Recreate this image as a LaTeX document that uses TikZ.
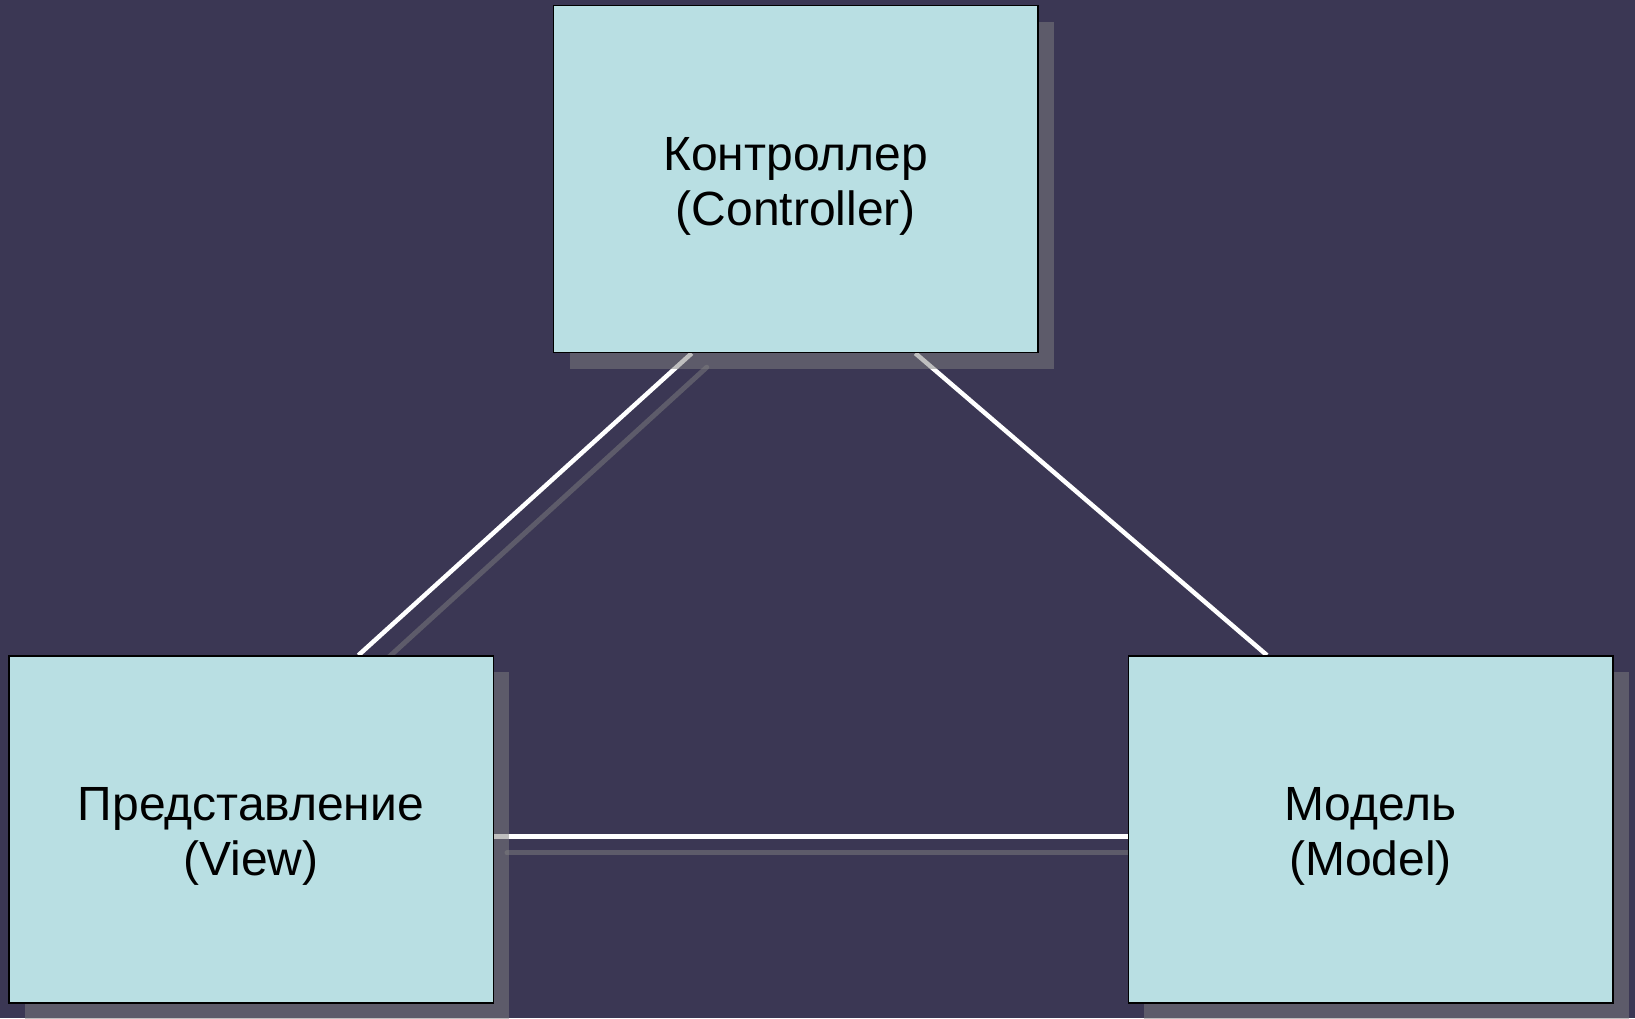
\documentclass[tikz,border=0pt]{standalone}
\usepackage{fontspec}
\setmainfont{Liberation Sans}
\usetikzlibrary{calc,shadows}
\definecolor{bgc}{HTML}{3B3754}
\definecolor{boxc}{HTML}{B9DFE3}
\pgfdeclarelayer{bgl}
\pgfdeclarelayer{conn}
\pgfsetlayers{bgl,conn,main}
\begin{document}
\begin{tikzpicture}[x=1pt,y=-1pt,
  box/.style={draw=black, line width=1.5pt, fill=boxc, minimum width=484.5pt,
    minimum height=347pt, inner sep=0pt,
    drop shadow={shadow xshift=16pt, shadow yshift=-16pt, fill=gray, opacity=0.5}},
  boxtext/.style={align=center, inner sep=0pt, yshift=-7pt,
    font=\fontsize{48}{55}\selectfont},
  link/.style={draw=white, line width=4.5pt},
  linkshadow/.style={draw=gray, draw opacity=0.5, line width=5pt, line cap=round}]
\begin{pgfonlayer}{bgl}
\fill[bgc] (0,0) rectangle (1635,1018);
\end{pgfonlayer}
\useasboundingbox (0,0) rectangle (1635,1018);
\node[box, label={[boxtext, name=ctrltext]center:Контроллер\\(Controller)}] (ctrl) at (795.75,179) {};
\node[box, label={[boxtext, name=viewtext]center:Представление\\(View)}] (view) at (251,829.5) {};
\node[box, label={[boxtext, name=modeltext]center:Модель\\(Model)}] (model) at (1370.5,829.5) {};
\coordinate (a) at ($(ctrl.south west)!0.286!(ctrl.south east)$);
\coordinate (b) at ($(view.north west)!0.721!(view.north east)$);
\coordinate (c) at ($(ctrl.south west)!0.746!(ctrl.south east)$);
\coordinate (d) at ($(model.north west)!0.287!(model.north east)$);
\coordinate (e) at ($(view.north east)!0.52!(view.south east)$);
\coordinate (f) at ($(model.north west)!0.52!(model.south west)$);
\begin{pgfonlayer}{conn}
\draw[linkshadow] ($(a)+(15,14)$) -- ($(b)+(16,15)$);
\draw[linkshadow] ($(e)+(13,16.5)$) -- ($(f)+(0,16.5)$);
\draw[link] (a) -- (b);
\draw[link] (c) -- (d);
\draw[link] (e) -- (f);
\end{pgfonlayer}
\end{tikzpicture}
\end{document}
